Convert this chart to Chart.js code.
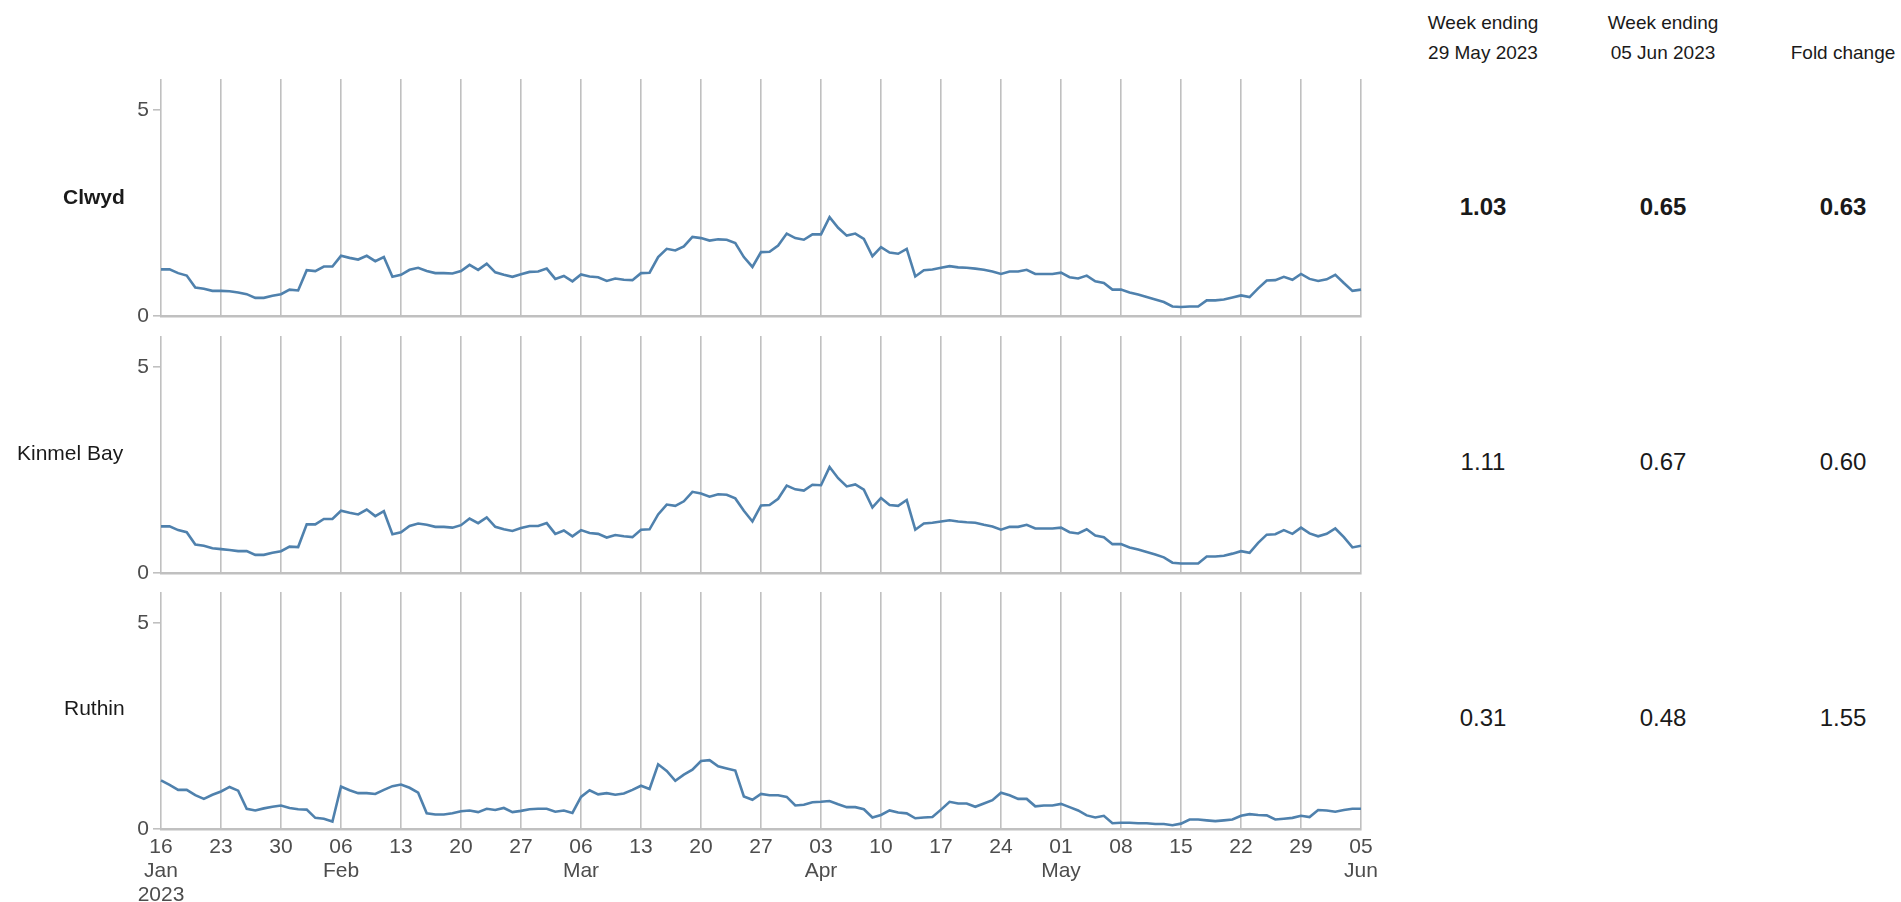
<!DOCTYPE html>
<html>
<head>
<meta charset="utf-8">
<script src="https://cdn.jsdelivr.net/npm/chart.js@4/dist/chart.umd.min.js"></script>
<style>
    body { margin: 0; background: #fff; width: 1901px; height: 902px; overflow: hidden; position: relative;
           font-family: "Liberation Sans", Arial, sans-serif; color: #1a1a1a; }
    canvas { position: absolute; left: 0; }
    .txt { position: absolute; white-space: nowrap; transform: translateY(-50%); }
    .ctr { transform: translate(-50%, -50%); text-align: center; }
</style>
</head>
<body>
<canvas id="panel-0" width="1400" height="269"></canvas>
<canvas id="panel-1" width="1400" height="269"></canvas>
<canvas id="panel-2" width="1400" height="330"></canvas>
<div id="table"></div>

<script>
// dates run daily from 16 Jan to 05 Jun 2023
const startDate = '2023-01-16';
const dayCount = 141;

// tick labels, one per week (Mondays)
const weekTicks = [
    ['16', 'Jan', '2023'], '23', '30', ['06', 'Feb'], '13', '20', '27',
    ['06', 'Mar'], '13', '20', '27', ['03', 'Apr'], '10', '17', '24',
    ['01', 'May'], '08', '15', '22', '29', ['05', 'Jun']
];

const regions = ['Clwyd', 'Kinmel Bay', 'Ruthin'];

const clwyd = [
    1.13, 1.13, 1.04, 0.98, 0.69, 0.66, 0.61, 0.61, 0.60, 0.57,
    0.53, 0.44, 0.44, 0.49, 0.53, 0.64, 0.62, 1.11, 1.09, 1.20,
    1.20, 1.46, 1.41, 1.37, 1.46, 1.33, 1.43, 0.95, 1.00, 1.12,
    1.17, 1.09, 1.04, 1.04, 1.03, 1.09, 1.24, 1.12, 1.27, 1.06,
    1.00, 0.95, 1.01, 1.07, 1.08, 1.15, 0.90, 0.97, 0.84, 1.01,
    0.96, 0.94, 0.85, 0.91, 0.88, 0.87, 1.04, 1.05, 1.43, 1.63,
    1.59, 1.69, 1.92, 1.89, 1.83, 1.86, 1.85, 1.77, 1.43, 1.19,
    1.55, 1.56, 1.71, 2.00, 1.89, 1.85, 1.98, 1.98, 2.40, 2.14,
    1.95, 2.00, 1.87, 1.45, 1.67, 1.54, 1.51, 1.63, 0.96, 1.11,
    1.13, 1.17, 1.21, 1.18, 1.17, 1.15, 1.12, 1.08, 1.02, 1.08,
    1.08, 1.12, 1.02, 1.02, 1.02, 1.05, 0.94, 0.91, 0.98, 0.84,
    0.80, 0.64, 0.64, 0.57, 0.52, 0.46, 0.40, 0.34, 0.23, 0.22,
    0.23, 0.23, 0.38, 0.38, 0.40, 0.45, 0.50, 0.46, 0.67, 0.86,
    0.87, 0.95, 0.88, 1.02, 0.90, 0.85, 0.89, 1.00, 0.80, 0.61, 0.64
];

const kinmelBay = [
    1.13, 1.13, 1.04, 0.99, 0.69, 0.66, 0.60, 0.58, 0.56, 0.53,
    0.53, 0.44, 0.44, 0.49, 0.53, 0.64, 0.63, 1.18, 1.18, 1.31,
    1.31, 1.51, 1.46, 1.42, 1.54, 1.38, 1.50, 0.94, 0.99, 1.14,
    1.20, 1.17, 1.12, 1.12, 1.10, 1.16, 1.32, 1.21, 1.35, 1.12,
    1.06, 1.02, 1.09, 1.14, 1.14, 1.21, 0.95, 1.03, 0.89, 1.04,
    0.97, 0.95, 0.86, 0.92, 0.89, 0.87, 1.05, 1.06, 1.42, 1.66,
    1.63, 1.74, 1.97, 1.93, 1.85, 1.91, 1.90, 1.81, 1.51, 1.25,
    1.64, 1.65, 1.80, 2.12, 2.03, 2.00, 2.14, 2.13, 2.57, 2.30,
    2.10, 2.15, 2.02, 1.59, 1.82, 1.65, 1.63, 1.77, 1.05, 1.20,
    1.22, 1.25, 1.28, 1.25, 1.23, 1.22, 1.17, 1.13, 1.05, 1.12,
    1.12, 1.17, 1.08, 1.08, 1.08, 1.10, 0.99, 0.96, 1.06, 0.91,
    0.87, 0.70, 0.70, 0.62, 0.57, 0.51, 0.45, 0.38, 0.25, 0.23,
    0.23, 0.23, 0.40, 0.40, 0.42, 0.47, 0.53, 0.49, 0.73, 0.93,
    0.94, 1.04, 0.95, 1.10, 0.96, 0.89, 0.95, 1.08, 0.87, 0.62, 0.66
];

const ruthin = [
    1.18, 1.07, 0.95, 0.95, 0.82, 0.73, 0.83, 0.91, 1.02, 0.93,
    0.49, 0.45, 0.50, 0.54, 0.57, 0.51, 0.48, 0.47, 0.27, 0.25,
    0.18, 1.03, 0.94, 0.87, 0.87, 0.85, 0.95, 1.04, 1.08, 1.00,
    0.88, 0.38, 0.35, 0.35, 0.38, 0.43, 0.45, 0.41, 0.49, 0.46,
    0.51, 0.41, 0.44, 0.48, 0.49, 0.49, 0.42, 0.45, 0.39, 0.78,
    0.94, 0.84, 0.87, 0.83, 0.86, 0.95, 1.05, 0.97, 1.57, 1.41,
    1.17, 1.32, 1.44, 1.65, 1.67, 1.52, 1.47, 1.42, 0.79, 0.71,
    0.85, 0.82, 0.82, 0.78, 0.57, 0.59, 0.65, 0.66, 0.68, 0.60,
    0.53, 0.53, 0.48, 0.28, 0.34, 0.45, 0.40, 0.38, 0.26, 0.28,
    0.29, 0.47, 0.66, 0.62, 0.62, 0.54, 0.62, 0.70, 0.88, 0.82,
    0.73, 0.73, 0.55, 0.57, 0.57, 0.61, 0.53, 0.45, 0.33, 0.28,
    0.32, 0.14, 0.15, 0.15, 0.14, 0.14, 0.12, 0.12, 0.09, 0.13,
    0.23, 0.23, 0.21, 0.19, 0.21, 0.23, 0.32, 0.36, 0.34, 0.33,
    0.23, 0.25, 0.27, 0.32, 0.29, 0.46, 0.45, 0.42, 0.46, 0.49, 0.49
];

// right-hand table
const headers = [['Week ending', '29 May 2023'], ['Week ending', '05 Jun 2023'], ['', 'Fold change']];
const weekPrev = [1.03, 1.11, 0.31];
const weekLast = [0.65, 0.67, 0.48];
const foldChange = [0.63, 0.60, 1.55];

const series = [clwyd, kinmelBay, ruthin];

// build the daily category labels
const dates = [];
for (let i = 0; i < dayCount; i++) {
    const d = new Date(startDate + 'T00:00:00Z');
    d.setUTCDate(d.getUTCDate() + i);
    dates.push(d.toISOString().slice(0, 10));
}

const lineColor = '#4f81ad';
const gridColor = '#c0c0c0';
const tickColor = '#4d4d4d';
const fontFamily = '"Liberation Sans", Arial, sans-serif';

// layout of the three panels
const panelTop = [79, 335.5, 592];
const plotHeight = 237;
const padTop = 18;

series.forEach((values, p) => {
    const canvas = document.getElementById('panel-' + p);
    const isLast = p === series.length - 1;
    const axisHeight = isLast ? 74 : 18;
    canvas.height = padTop + plotHeight + axisHeight;
    canvas.style.top = (panelTop[p] - padTop) + 'px';

    // eslint-disable-next-line no-undef
    new Chart(canvas.getContext('2d'), {
        type: 'line',
        data: {
            labels: dates,
            datasets: [{
                data: values,
                borderColor: lineColor,
                borderWidth: 2.6,
                pointRadius: 0,
                tension: 0,
                fill: false
            }]
        },
        options: {
            responsive: false,
            animation: false,
            layout: { padding: { top: padTop, right: 39, left: 0, bottom: 0 } },
            plugins: { legend: { display: false }, tooltip: { enabled: false } },
            scales: {
                x: {
                    type: 'category',
                    afterFit: scale => { scale.height = axisHeight; },
                    grid: {
                        color: ctx => (ctx.index % 7 === 0 ? gridColor : 'rgba(0,0,0,0)'),
                        lineWidth: 1.6,
                        drawTicks: false
                    },
                    border: { display: true, color: gridColor, width: 2.5 },
                    ticks: {
                        display: isLast,
                        autoSkip: false,
                        maxRotation: 0,
                        minRotation: 0,
                        padding: 6,
                        color: tickColor,
                        font: { family: fontFamily, size: 21, lineHeight: 1.15 },
                        callback: (value, index) => (index % 7 === 0 ? weekTicks[index / 7] : '')
                    }
                },
                y: {
                    min: 0,
                    max: 5.75,
                    afterFit: scale => { scale.width = 161; },
                    grid: { drawOnChartArea: false, drawTicks: true, tickLength: 8, color: gridColor, lineWidth: 1.6 },
                    border: { display: false },
                    ticks: {
                        stepSize: 5,
                        includeBounds: false,
                        padding: 4,
                        color: tickColor,
                        font: { family: fontFamily, size: 21 }
                    }
                }
            }
        }
    });
});

// region names and table text
const table = document.getElementById('table');
function addText(text, x, y, opts) {
    const el = document.createElement('div');
    el.className = 'txt' + (opts.center ? ' ctr' : '');
    el.textContent = text;
    el.style.left = x + 'px';
    el.style.top = y + 'px';
    el.style.fontSize = opts.size + 'px';
    if (opts.bold) el.style.fontWeight = 'bold';
    table.appendChild(el);
}

const labelLeft = [63, 17, 64];
const labelY = [197, 453, 708];
const rowY = [207, 462, 718];
const colX = [1483, 1663, 1843];

regions.forEach((name, i) => {
    addText(name, labelLeft[i], labelY[i], { size: 21, bold: i === 0 });
    const cells = [weekPrev[i], weekLast[i], foldChange[i]];
    cells.forEach((v, c) => {
        addText(v.toFixed(2), colX[c], rowY[i], { size: 24, bold: i === 0, center: true });
    });
});

headers.forEach((lines, c) => {
    if (lines[0]) addText(lines[0], colX[c], 23, { size: 19, center: true });
    addText(lines[1], colX[c], 53, { size: 19, center: true });
});
</script>
</body>
</html>
